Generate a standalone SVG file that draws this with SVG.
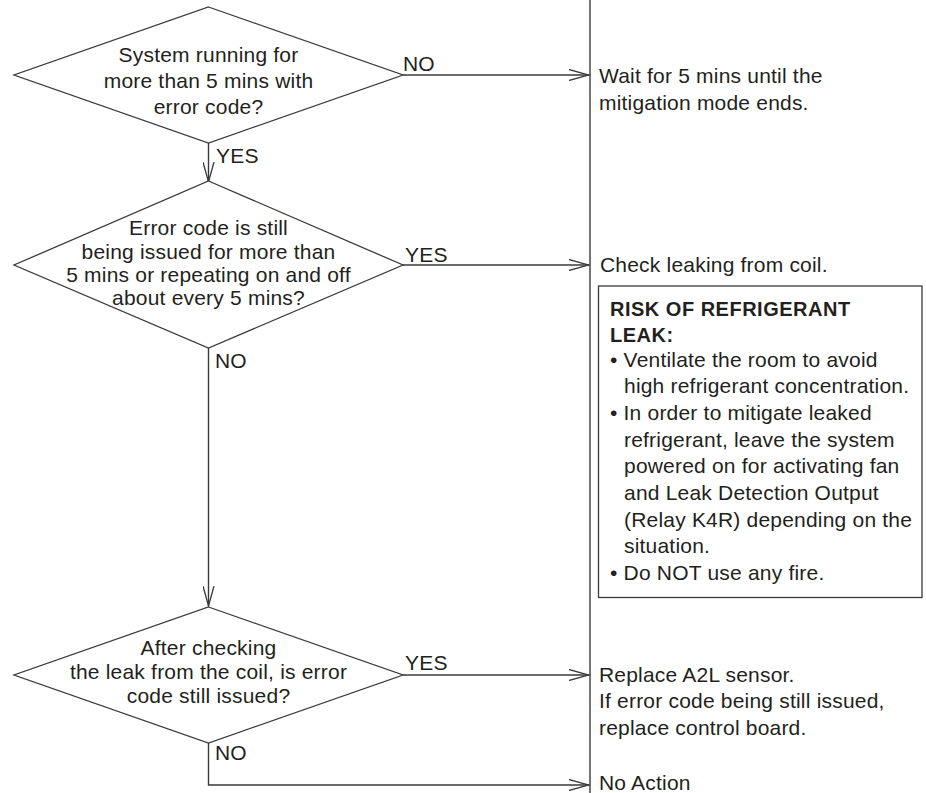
<svg xmlns="http://www.w3.org/2000/svg" width="926" height="793" viewBox="0 0 926 793">
<style>
.ln{fill:none;stroke:#3a3a3a;stroke-width:1.4}
.dm{fill:#fff;stroke:#3a3a3a;stroke-width:1.3}
text{font-family:"Liberation Sans",Arial,sans-serif;font-size:21px;fill:#231f20;letter-spacing:0.2px}
.c{text-anchor:middle}
.b{font-weight:bold;font-size:20px;letter-spacing:0.5px}
</style>
<defs>
<marker id="ah" markerUnits="userSpaceOnUse" markerWidth="22" markerHeight="12" refX="20" refY="6" orient="auto">
<path d="M0,0.5 L20,6 L0,11.5" fill="none" stroke="#3a3a3a" stroke-width="1.3"/>
</marker>
</defs>
<rect width="926" height="793" fill="#fff"/>
<g id="connectors">
<line class="ln" x1="590" y1="0" x2="590" y2="793"/>
<line class="ln" x1="403" y1="75" x2="589" y2="75" marker-end="url(#ah)"/>
<line class="ln" x1="208.5" y1="143" x2="208.5" y2="182" marker-end="url(#ah)"/>
<line class="ln" x1="403" y1="265" x2="589" y2="265" marker-end="url(#ah)"/>
<line class="ln" x1="208.5" y1="348" x2="208.5" y2="606" marker-end="url(#ah)"/>
<line class="ln" x1="403" y1="675" x2="589" y2="675" marker-end="url(#ah)"/>
<polyline class="ln" points="208.5,743 208.5,785 589,785" marker-end="url(#ah)"/>
<text x="403" y="71">NO</text>
<text x="216" y="163">YES</text>
<text x="405" y="262">YES</text>
<text x="215" y="368">NO</text>
<text x="405" y="670">YES</text>
<text x="215" y="760">NO</text>
</g>
<g id="d1">
<polygon class="dm" points="208.5,7 403,75 208.5,143 14,75"/>
<text class="c" x="208.5" y="62">System running for</text>
<text class="c" x="208.5" y="88">more than 5 mins with</text>
<text class="c" x="208.5" y="114">error code?</text>
</g>
<g id="d2">
<polygon class="dm" points="208.5,181 403,265 208.5,348 14,265"/>
<text class="c" x="208.5" y="235">Error code is still</text>
<text class="c" x="208.5" y="258.5">being issued for more than</text>
<text class="c" x="208.5" y="282">5 mins or repeating on and off</text>
<text class="c" x="208.5" y="305">about every 5 mins?</text>
</g>
<g id="d3">
<polygon class="dm" points="208.5,607 403,675 208.5,743 14,675"/>
<text class="c" x="208.5" y="655">After checking</text>
<text class="c" x="208.5" y="679">the leak from the coil, is error</text>
<text class="c" x="208.5" y="703">code still issued?</text>
</g>
<g id="r1">
<text x="599" y="83">Wait for 5 mins until the</text>
<text x="599" y="110">mitigation mode ends.</text>
</g>
<g id="r2">
<text x="600" y="272">Check leaking from coil.</text>
</g>
<g id="warn">
<rect x="598.5" y="286" width="323.5" height="311.5" fill="none" stroke="#3a3a3a" stroke-width="1.3"/>
<text class="b" x="610" y="316">RISK OF REFRIGERANT</text>
<text class="b" x="610" y="342">LEAK:</text>
<text x="610" y="367">• Ventilate the room to avoid</text>
<text x="624" y="393">high refrigerant concentration.</text>
<text x="610" y="420">• In order to mitigate leaked</text>
<text x="624" y="447">refrigerant, leave the system</text>
<text x="624" y="473">powered on for activating fan</text>
<text x="624" y="500">and Leak Detection Output</text>
<text x="624" y="527">(Relay K4R) depending on the</text>
<text x="624" y="553">situation.</text>
<text x="610" y="580">• Do NOT use any fire.</text>
</g>
<g id="r3">
<text x="599" y="682">Replace A2L sensor.</text>
<text x="599" y="708">If error code being still issued,</text>
<text x="599" y="735">replace control board.</text>
</g>
<g id="r4">
<text x="599" y="790">No Action</text>
</g>
</svg>
